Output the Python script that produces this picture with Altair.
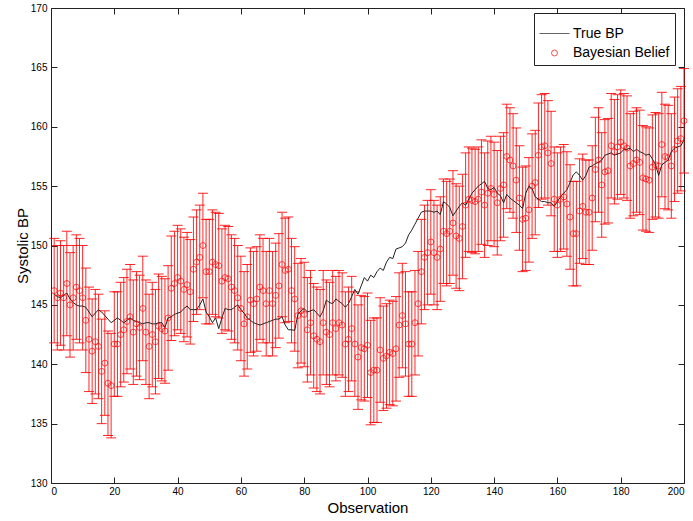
import altair as alt
import pandas as pd

obs = list(range(1, 201))

belief = [
    146.2, 145.6, 146.0, 145.6, 146.8, 145.0, 145.6, 146.5, 146.2, 145.6,
    143.7, 142.1, 141.1, 141.9, 141.5, 139.4, 140.1, 138.4, 138.2, 141.7,
    141.7, 142.5, 142.9, 143.6, 144.0, 142.7, 143.4, 143.1, 144.7, 142.7,
    141.5, 142.5, 141.9, 143.2, 143.0, 142.8, 143.9, 146.4, 146.8, 147.3,
    147.0, 146.3, 146.7, 146.1, 148.0, 148.6, 149.0, 150.0, 147.8, 147.8,
    148.6, 148.4, 148.3, 147.0, 147.3, 147.2, 146.5, 146.2, 145.6, 144.7,
    143.4, 144.0, 145.4, 145.1, 145.5, 146.5, 146.2, 145.1, 146.2, 145.1,
    145.8, 146.6, 148.4, 147.9, 148.0, 146.2, 145.5, 144.1, 144.5, 144.2,
    142.9, 143.5, 142.4, 142.1, 141.9, 143.5, 142.7, 142.5, 143.5, 143.0,
    143.5, 143.3, 141.7, 142.1, 143.0, 141.7, 140.6, 141.4, 141.3, 141.6,
    139.3, 139.5, 139.5, 141.2, 140.5, 140.7, 141.0, 140.9, 141.3, 143.3,
    144.1, 143.4, 141.7, 141.7, 143.5, 145.1, 147.8, 149.0, 149.4, 150.3,
    149.4, 149.0, 149.7, 151.2, 151.0, 151.2, 151.9, 150.8, 150.6, 151.6,
    153.4, 153.9, 153.8, 153.7, 153.9, 154.5, 153.4, 154.4, 154.8, 154.3,
    153.6, 154.8, 155.1, 157.5, 157.2, 156.7, 155.5, 154.0, 152.2, 152.3,
    153.0, 155.0, 155.3, 157.6, 158.3, 158.4, 157.8, 156.9, 153.9, 153.4,
    153.9, 154.1, 153.5, 152.4, 151.0, 151.0, 152.9, 153.3, 152.8, 152.8,
    154.0, 156.4, 157.2, 155.1, 156.2, 156.3, 158.4, 157.9, 158.3, 158.7,
    158.4, 158.2, 156.7, 156.9, 157.2, 157.0, 155.7, 155.6, 155.5, 156.6,
    156.8, 156.7, 158.5, 157.5, 157.4, 156.7, 158.1, 158.8, 159.0, 160.5,
]

true_bp = [
    145.9, 145.7, 145.6, 145.8, 146.0, 145.5, 145.2, 145.0, 144.9, 144.9,
    144.8, 144.4, 144.0, 144.3, 144.6, 144.4, 144.1, 143.8, 143.5, 143.7,
    143.9, 143.7, 143.5, 143.7, 143.9, 143.7, 143.6, 143.5, 143.4, 143.5,
    143.5, 143.4, 143.4, 143.5, 143.5, 143.1, 143.9, 144.0, 144.2, 144.3,
    144.4, 144.7, 144.9, 144.6, 144.6, 144.6, 145.0, 145.5, 144.4, 144.0,
    143.5, 143.9, 143.0, 143.9, 144.7, 144.6, 144.6, 144.8, 145.0, 144.6,
    144.3, 143.9, 143.7, 143.5, 143.4, 143.3, 143.4, 143.5, 143.6, 143.7,
    143.8, 143.8, 144.0, 143.3, 142.9, 142.9, 142.85, 144.2, 144.5, 144.7,
    144.4, 144.5, 144.6, 144.3, 144.0, 144.5, 145.4, 145.2, 145.1, 145.5,
    145.3, 145.1, 144.8, 145.1, 145.7, 146.3, 145.9, 146.6, 147.3, 147.0,
    147.5, 147.3, 147.8, 148.1, 147.9, 148.6, 149.0, 148.9, 149.7, 149.8,
    149.9, 150.2, 150.9, 151.3, 151.8, 152.3, 152.8, 152.9, 152.9, 152.9,
    152.8, 152.9, 152.6, 153.7, 153.5, 153.2, 152.5, 152.9, 153.3, 153.6,
    153.4, 153.9, 154.4, 154.7, 155.0, 155.2, 155.4, 154.8, 154.7, 154.9,
    154.4, 154.2, 153.6, 154.3, 154.0, 153.8, 153.6, 153.4, 153.1, 154.4,
    155.0, 154.8, 154.1, 153.9, 153.7, 153.7, 153.6, 153.6, 153.3, 153.7,
    154.1, 154.4, 154.7, 155.3, 155.95, 156.2, 155.9, 155.5, 155.9, 156.6,
    156.7, 156.9, 157.0, 157.2, 157.6, 157.7, 157.8, 157.6, 157.7, 157.8,
    158.1, 158.1, 158.2, 157.9, 158.1, 157.9, 157.8, 157.6, 157.7, 157.3,
    156.8, 155.9, 156.8, 157.0, 157.2, 157.9, 158.2, 158.3, 158.4, 158.9,
]

err_half = 4.4
x_ticks = [0, 20, 40, 60, 80, 100, 120, 140, 160, 180, 200]
y_ticks = [130, 135, 140, 145, 150, 155, 160, 165, 170]
series = ["True BP", "Bayesian Belief"]

df_line = pd.DataFrame({"obs": obs, "val": true_bp, "series": "True BP"})
df_pts = pd.DataFrame({
    "obs": obs,
    "val": belief,
    "lo": [b - err_half for b in belief],
    "hi": [b + err_half for b in belief],
    "series": "Bayesian Belief",
})

AXC = "#222222"
LBL_FONT = "Liberation Sans Narrow, Liberation Sans, Arial, sans-serif"
TTL_FONT = "Liberation Sans, Arial, sans-serif"

xscale = alt.Scale(domain=[0, 200], nice=False, zero=False)
yscale = alt.Scale(domain=[130, 170], nice=False, zero=False)

x_bottom = alt.Axis(orient="bottom", values=x_ticks, tickSize=6, offset=-6,
                    domain=False, grid=False, labelPadding=3, labelFontSize=10,
                    labelFont=LBL_FONT, labelColor="black", tickColor=AXC,
                    title="Observation", titleFont=TTL_FONT, titleFontSize=15,
                    titleFontWeight="normal", titleColor="black",
                    titleY=30, titleBaseline="middle")
y_left = alt.Axis(orient="left", values=y_ticks, tickSize=6, offset=-6,
                  domain=False, grid=False, labelPadding=4, labelFontSize=10,
                  labelFont=LBL_FONT, labelColor="black", tickColor=AXC,
                  title="Systolic BP", titleFont=TTL_FONT, titleFontSize=15,
                  titleFontWeight="normal", titleColor="black",
                  titleX=-35, titleY=237.5, titleBaseline="middle", titleAngle=-90)
x_top = alt.Axis(orient="top", values=x_ticks, tickSize=6, offset=-6,
                 domain=False, grid=False, labels=False, title=None, tickColor=AXC)
y_right = alt.Axis(orient="right", values=y_ticks, tickSize=6, offset=-6,
                   domain=False, grid=False, labels=False, title=None, tickColor=AXC)

color_scale = alt.Scale(domain=series, range=["#222222", "#ff0000"])
shape_scale = alt.Scale(domain=series, range=["stroke", "circle"])
size_scale = alt.Scale(domain=series, range=[900, 35])

legend = alt.Legend(title=None, orient="none", legendX=483, legendY=5,
                    fillColor="white", strokeColor="#222222", padding=5,
                    labelFontSize=14, labelFont=TTL_FONT, labelColor="black",
                    labelOffset=3, rowPadding=5, cornerRadius=0,
                    symbolStrokeWidth=1)

bars = alt.Chart(df_pts).mark_rule(color="#ff0000", strokeWidth=1, opacity=0.85).encode(
    x=alt.X("obs:Q", scale=xscale, axis=x_bottom),
    y=alt.Y("lo:Q", scale=yscale, axis=y_left),
    y2="hi:Q",
)
caps_lo = alt.Chart(df_pts).mark_tick(color="#ff0000", orient="horizontal", size=10,
                                      thickness=1, opacity=0.85).encode(
    x=alt.X("obs:Q", scale=xscale, axis=None),
    y=alt.Y("lo:Q", scale=yscale, axis=None))
caps_hi = alt.Chart(df_pts).mark_tick(color="#ff0000", orient="horizontal", size=10,
                                      thickness=1, opacity=0.85).encode(
    x=alt.X("obs:Q", scale=xscale, axis=None),
    y=alt.Y("hi:Q", scale=yscale, axis=None))

line = alt.Chart(df_line).mark_line(strokeWidth=1).encode(
    x=alt.X("obs:Q", scale=xscale, axis=x_top),
    y=alt.Y("val:Q", scale=yscale, axis=y_right),
    color=alt.Color("series:N", scale=color_scale, legend=legend),
)

points = alt.Chart(df_pts).mark_point(filled=False, strokeWidth=1).encode(
    x=alt.X("obs:Q", scale=xscale, axis=None),
    y=alt.Y("val:Q", scale=yscale, axis=None),
    color=alt.Color("series:N", scale=color_scale, legend=legend),
    shape=alt.Shape("series:N", scale=shape_scale, legend=legend),
    size=alt.Size("series:N", scale=size_scale, legend=legend),
)

chart = alt.layer(bars, caps_lo, caps_hi, line, points).resolve_axis(
    x="independent", y="independent"
).properties(
    width=633, height=475,
    autosize=alt.AutoSizeParams(type="none"),
    padding={"left": 51, "top": 8, "right": 9, "bottom": 38},
    background="white",
).configure_view(stroke=AXC, strokeWidth=1)

chart.save("out.html", embed_options={"renderer": "svg", "actions": False})
